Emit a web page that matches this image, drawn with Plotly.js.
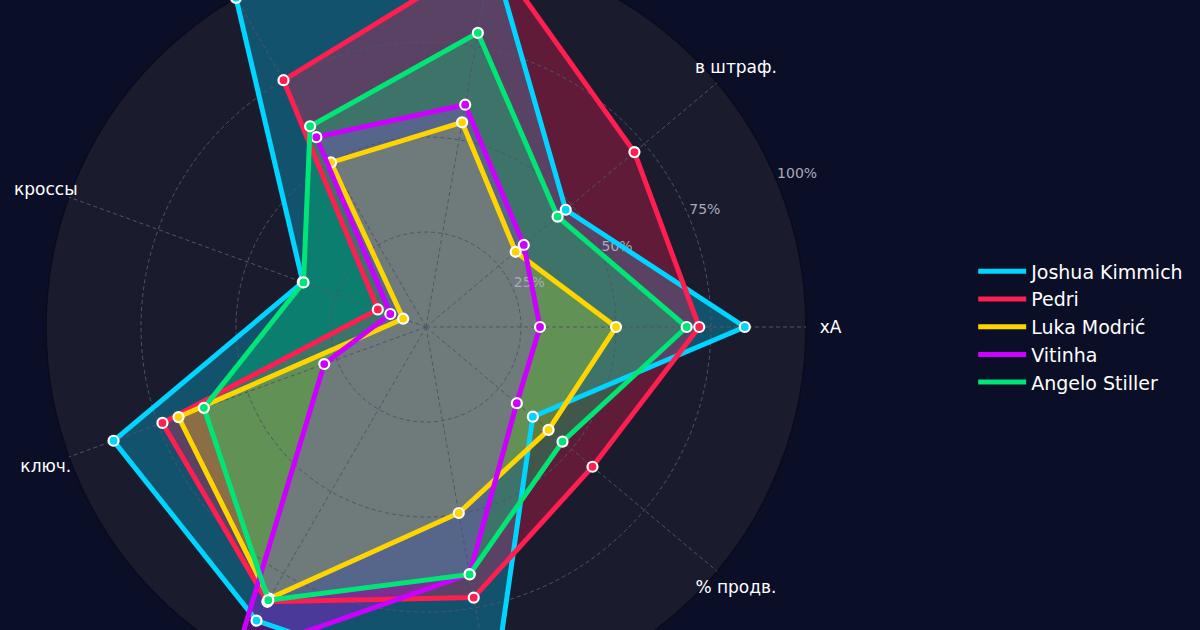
<!DOCTYPE html>
<html><head><meta charset="utf-8">
<script src="https://cdn.plot.ly/plotly-3.0.1.min.js"></script>
<style>
html,body{margin:0;padding:0;background:#0b0e27;overflow:hidden;width:1200px;height:630px}
#chart{position:absolute;left:0;top:-135px;width:1200px;height:900px}
</style>
</head><body><div id="chart"></div>
<script>
// Axes (counterclockwise from the right); names of axes outside the visible frame are unknown
const categories = ['xA', 'в штраф.', '', '', 'кроссы', 'ключ.', '', '', '% продв.'];
const players = ['Joshua Kimmich', 'Pedri', 'Luka Modrić', 'Vitinha', 'Angelo Stiller'];
const colors = ['#00d4ff', '#ff1e50', '#ffd500', '#cc00ff', '#00e676'];

// Values as share of 100%
const kimmich = [0.839, 0.480, 1.00, 1.00, 0.345, 0.875, 0.892, 1.00, 0.367];
const pedri   = [0.719, 0.716, 1.00, 0.750, 0.135, 0.738, 0.835, 0.723, 0.572];
const modric  = [0.500, 0.308, 0.547, 0.500, 0.064, 0.693, 0.825, 0.497, 0.421];
const vitinha = [0.300, 0.336, 0.594, 0.577, 0.100, 0.285, 1.00, 0.660, 0.312];
const stiller = [0.686, 0.452, 0.786, 0.610, 0.343, 0.622, 0.830, 0.661, 0.469];
const series = [kimmich, pedri, modric, vitinha, stiller];

const radialTicks = [0.25, 0.5, 0.75, 1.0];
const radialTickLabels = ['25%', '50%', '75%', '100%'];

const thetas = categories.map((c, i) => i * 360 / categories.length);
const close = a => a.concat([a[0]]);
function rgba(hex, a) {
  const n = parseInt(hex.slice(1), 16);
  return 'rgba(' + ((n >> 16) & 255) + ',' + ((n >> 8) & 255) + ',' + (n & 255) + ',' + a + ')';
}

const data = [];
// fills (below grid)
series.forEach((vals, i) => {
  data.push({
    type: 'scatterpolar', subplot: 'polar', mode: 'none',
    r: close(vals), theta: close(thetas), fill: 'toself',
    fillcolor: rgba(colors[i], 0.3), showlegend: false, hoverinfo: 'skip'
  });
});
// radial tick labels
data.push({
  type: 'scatterpolar', subplot: 'polar2', mode: 'text',
  r: radialTicks, theta: radialTicks.map(() => 22.5), text: radialTickLabels,
  textposition: 'top right', cliponaxis: false, showlegend: false, hoverinfo: 'skip',
  textfont: {family: 'DejaVu Sans', size: 14, color: '#a9abbb'}
});
// lines + markers
series.forEach((vals, i) => {
  data.push({
    type: 'scatterpolar', subplot: 'polar2', mode: 'lines', name: players[i],
    r: close(vals), theta: close(thetas),
    line: {color: colors[i], width: 5}, cliponaxis: false, hoverinfo: 'skip'
  });
  data.push({
    type: 'scatterpolar', subplot: 'polar2', mode: 'markers', name: players[i],
    r: vals, theta: thetas, showlegend: false, cliponaxis: false,
    marker: {color: colors[i], size: 10, line: {color: '#ffffff', width: 2.2}}, hoverinfo: 'skip'
  });
});
// angular labels on an outer label ring
data.push({
  type: 'scatterpolar', subplot: 'polar3', mode: 'text',
  r: categories.map(() => 1), theta: thetas, text: categories,
  textposition: 'middle center', cliponaxis: false, showlegend: false, hoverinfo: 'skip',
  textfont: {family: 'DejaVu Sans', size: 17, color: '#ffffff'}
});

const dom = {x: [0.03833, 0.67167], y: [0.0644, 0.9089]};
const labelDom = {x: [0.0175, 0.6925], y: [0.0345, 0.9345]};
const gridCol = '#50546b';
const hiddenAxes = {
  radialaxis: {range: [0, 1.001], showgrid: false, showticklabels: false, showline: false, ticks: ''},
  angularaxis: {direction: 'counterclockwise', rotation: 0, showgrid: false, showticklabels: false, ticks: '', showline: false}
};
const layout = {
  width: 1200, height: 900,
  paper_bgcolor: '#0b0e27', plot_bgcolor: '#0b0e27',
  margin: {l: 0, r: 0, t: 0, b: 0},
  showlegend: true,
  legend: {
    x: 0.811, y: 0.4867, xanchor: 'left', yanchor: 'middle',
    bgcolor: 'rgba(0,0,0,0)', font: {family: 'DejaVu Sans', size: 19, color: '#ffffff'},
    itemwidth: 48, tracegroupgap: 0
  },
  polar: {
    domain: dom, bgcolor: '#1b1b2e',
    radialaxis: {range: [0, 1], showgrid: false, showticklabels: false, showline: false, ticks: ''},
    angularaxis: {direction: 'counterclockwise', rotation: 0, tickvals: thetas, showgrid: false,
      showticklabels: false, ticks: '', showline: true, linecolor: '#0a0c1c', linewidth: 1.5}
  },
  polar2: {
    domain: dom, bgcolor: 'rgba(0,0,0,0)',
    radialaxis: {range: [0, 1], tickvals: [0.25, 0.5, 0.75], showgrid: true, gridcolor: gridCol,
      griddash: '4px,3px', gridwidth: 1, showticklabels: false, showline: false, ticks: ''},
    angularaxis: {direction: 'counterclockwise', rotation: 0, tickvals: thetas, showgrid: true,
      gridcolor: gridCol, griddash: '4px,3px', gridwidth: 1, showticklabels: false, showline: false, ticks: ''}
  },
  polar3: Object.assign({domain: labelDom, bgcolor: 'rgba(0,0,0,0)'}, hiddenAxes)
};

Plotly.newPlot('chart', data, layout, {staticPlot: true, displayModeBar: false});
</script>
</body></html>
